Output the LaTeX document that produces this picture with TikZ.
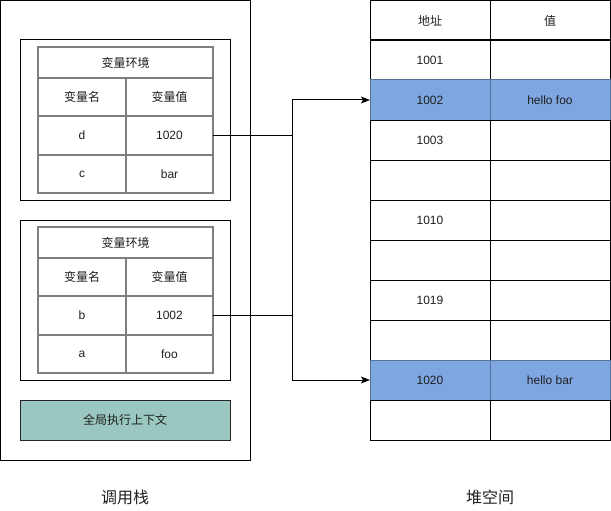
\documentclass[tikz,border=0pt]{standalone}
\usepackage{fontspec}
\setmainfont{Liberation Sans}
\newfontfamily\cjk{Noto Sans CJK SC}
\usetikzlibrary{arrows.meta}

\definecolor{txt}{HTML}{1F1F1F}
\definecolor{gridgray}{HTML}{7F7F7F}
\definecolor{hlfill}{HTML}{7EA6E0}
\definecolor{hldraw}{HTML}{56739E}
\definecolor{globalfill}{HTML}{9AC7BF}

\tikzset{
  base/.style={inner sep=0pt, outer sep=0pt, anchor=north west, text=txt,
    font=\fontsize{12}{14}\selectfont},
  frame/.style={draw=black, line width=1pt},
  tcell/.style={base, draw=gridgray, line width=1.6pt,
    minimum width=#1},
  hcell/.style={base, draw=black, line width=1pt,
    minimum width=120pt, minimum height=40pt},
  hlcell/.style={hcell, fill=hlfill, draw=hldraw},
  link/.style={draw=black, line width=1pt},
  arrowlink/.style={link, -{Stealth[length=9pt,width=7pt,inset=2pt]}},
  caption/.style={inner sep=0pt, text=txt, font=\fontsize{16}{18}\selectfont\cjk},
}

\begin{document}
\begin{tikzpicture}[x=1pt,y=-1pt]
\useasboundingbox (0,0) rectangle (611,511);

% call stack container
\node[base, frame, minimum width=250pt, minimum height=460pt] (stack) at (0.5,0.5) {};

% upper variable environment
\node[base, frame, minimum width=210pt, minimum height=160pt] (env1) at (20,40) {};
\node[tcell=175pt, minimum height=31pt] (env1h) at (38,47) {\cjk 变量环境};
\node[tcell=88pt, minimum height=38pt] (env1n) at (38,78) {\cjk 变量名};
\node[tcell=87pt, minimum height=38pt] (env1v) at (126,78) {\cjk 变量值};
\node[tcell=88pt, minimum height=39pt] (vd) at (38,116) {d};
\node[tcell=87pt, minimum height=39pt] (v1020) at (126,116) {1020};
\node[tcell=88pt, minimum height=38pt] (vc) at (38,155) {c};
\node[tcell=87pt, minimum height=38pt] (vbar) at (126,155) {bar};

% lower variable environment
\node[base, frame, minimum width=210pt, minimum height=160pt] (env2) at (20,220) {};
\node[tcell=175pt, minimum height=31pt] (env2h) at (38,227) {\cjk 变量环境};
\node[tcell=88pt, minimum height=38pt] (env2n) at (38,258) {\cjk 变量名};
\node[tcell=87pt, minimum height=38pt] (env2v) at (126,258) {\cjk 变量值};
\node[tcell=88pt, minimum height=39pt] (vb) at (38,296) {b};
\node[tcell=87pt, minimum height=39pt] (v1002) at (126,296) {1002};
\node[tcell=88pt, minimum height=38pt] (va) at (38,335) {a};
\node[tcell=87pt, minimum height=38pt] (vfoo) at (126,335) {foo};

% global execution context
\node[base, frame, draw=black!85, fill=globalfill, minimum width=210pt,
  minimum height=40pt] (global) at (20,400) {\cjk 全局执行上下文};

% heap table
\node[hcell] (hh1) at (370,0.5) {\cjk 地址};
\node[hcell] (hh2) at (490,0.5) {\cjk 值};
\node[hcell] (h1001) at (370,40) {1001};
\node[hcell] (h1001v) at (490,40) {};
\node[hlcell] (h1002) at (370,80) {1002};
\node[hlcell] (h1002v) at (490,80) {hello foo};
\node[hcell] (h1003) at (370,120) {1003};
\node[hcell] (h1003v) at (490,120) {};
\node[hcell] (hr5) at (370,160) {};
\node[hcell] (hr5v) at (490,160) {};
\node[hcell] (h1010) at (370,200) {1010};
\node[hcell] (h1010v) at (490,200) {};
\node[hcell] (hr7) at (370,240) {};
\node[hcell] (hr7v) at (490,240) {};
\node[hcell] (h1019) at (370,280) {1019};
\node[hcell] (h1019v) at (490,280) {};
\node[hcell] (hr9) at (370,320) {};
\node[hcell] (hr9v) at (490,320) {};
\node[hlcell] (h1020) at (370,360) {1020};
\node[hlcell] (h1020v) at (490,360) {hello bar};
\node[hcell] (hr11) at (370,400) {};
\node[hcell] (hr11v) at (490,400) {};

% references from the stack into the heap
\coordinate (jx) at (292,0);
\draw[arrowlink] (v1020.east) -- (v1020.east -| jx) |- (h1020.west);
\draw[arrowlink] (v1002.east) -- (v1002.east -| jx) |- (h1002.west);

% captions
\node[caption] (capstack) at (125,497) {调用栈};
\node[caption] (capheap) at (490,497) {堆空间};
\end{tikzpicture}
\end{document}
